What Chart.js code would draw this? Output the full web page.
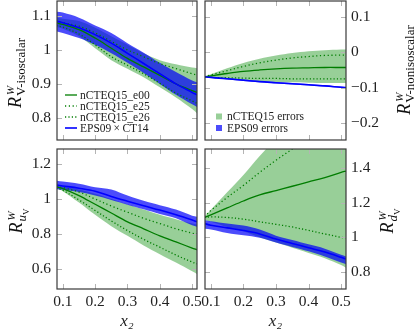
<!DOCTYPE html>
<html>
<head>
<meta charset="utf-8">
<script src="https://cdn.jsdelivr.net/npm/chart.js@4.4.0/dist/chart.umd.min.js"></script>
<style>
  html, body { margin: 0; padding: 0; background: #fff; }
  #wrap { position: relative; width: 415px; height: 332px; overflow: hidden; }
  #wrap canvas { position: absolute; left: 0; top: 0; }
</style>
</head>
<body>
<div id="wrap">
  <canvas id="isoChart" width="415" height="332"></canvas>
  <canvas id="nonisoChart" width="415" height="332"></canvas>
  <canvas id="uvChart" width="415" height="332"></canvas>
  <canvas id="dvChart" width="415" height="332"></canvas>
</div>
<script>
// x2 grid shared by every panel
const x2 = [0.08, 0.1, 0.15, 0.2, 0.25, 0.3, 0.35, 0.4, 0.45, 0.5, 0.515];
const xTicks = [0.1, 0.2, 0.3, 0.4, 0.5];
const xTickLabels = ["0.1", "0.2", "0.3", "0.4", "0.5"];

// R_V-isoscalar (top left)
const isoE00 = [1.08, 1.075, 1.06, 1.035, 1.005, 0.975, 0.95, 0.925, 0.9, 0.88, 0.875];
const isoE25 = [1.085, 1.08, 1.07, 1.05, 1.025, 1.0, 0.98, 0.96, 0.945, 0.93, 0.926];
const isoE26 = [1.072, 1.067, 1.047, 1.015, 0.98, 0.955, 0.93, 0.902, 0.873, 0.85, 0.843];
const isoHi = [1.095, 1.092, 1.085, 1.065, 1.04, 1.015, 0.99, 0.97, 0.958, 0.948, 0.946];
const isoLo = [1.068, 1.062, 1.04, 1.005, 0.97, 0.945, 0.92, 0.89, 0.86, 0.826, 0.814];
const isoEps = [1.085, 1.08, 1.065, 1.045, 1.02, 0.99, 0.96, 0.93, 0.9, 0.875, 0.868];
const isoEpsHi = [1.113, 1.11, 1.095, 1.072, 1.05, 1.02, 0.992, 0.962, 0.935, 0.91, 0.905];
const isoEpsLo = [1.055, 1.05, 1.035, 1.015, 0.99, 0.962, 0.932, 0.9, 0.868, 0.84, 0.832];
const isoTicks = [0.8, 0.9, 1, 1.1];
const isoTickLabels = ["0.8", "0.9", "1", "1.1"];

// R_V-nonisoscalar (top right)
const nonE00 = [-0.07, -0.067, -0.06, -0.054, -0.05, -0.047, -0.045, -0.044, -0.043, -0.043, -0.043];
const nonE25 = [-0.069, -0.064, -0.052, -0.04, -0.03, -0.022, -0.016, -0.012, -0.009, -0.008, -0.008];
const nonE26 = [-0.07, -0.071, -0.072, -0.073, -0.074, -0.074, -0.075, -0.075, -0.075, -0.075, -0.075];
const nonHi = [-0.068, -0.062, -0.045, -0.03, -0.018, -0.009, -0.002, 0.003, 0.006, 0.008, 0.008];
const nonLo = [-0.07, -0.072, -0.076, -0.079, -0.082, -0.084, -0.085, -0.086, -0.087, -0.087, -0.087];
const nonEps = [-0.069, -0.071, -0.075, -0.079, -0.083, -0.086, -0.089, -0.092, -0.095, -0.099, -0.1];
const nonEpsHi = [-0.067, -0.069, -0.073, -0.077, -0.081, -0.084, -0.087, -0.09, -0.093, -0.097, -0.098];
const nonEpsLo = [-0.071, -0.073, -0.077, -0.081, -0.085, -0.088, -0.091, -0.094, -0.097, -0.101, -0.102];
const nonTicks = [-0.2, -0.1, 0, 0.1];
const nonTickLabels = ["\u22120.2", "\u22120.1", "0", "0.1"];

// R_uV (bottom left)
const uvE00 = [1.07, 1.06, 1.02, 0.97, 0.92, 0.87, 0.83, 0.79, 0.755, 0.72, 0.71];
const uvE25 = [1.07, 1.065, 1.04, 1.0, 0.96, 0.925, 0.89, 0.86, 0.83, 0.805, 0.8];
const uvE26 = [1.065, 1.05, 0.995, 0.935, 0.875, 0.82, 0.77, 0.725, 0.68, 0.64, 0.63];
const uvHi = [1.075, 1.07, 1.055, 1.03, 1.0, 0.97, 0.94, 0.91, 0.885, 0.86, 0.855];
const uvLo = [1.06, 1.045, 0.98, 0.91, 0.845, 0.79, 0.735, 0.685, 0.637, 0.587, 0.572];
const uvEps = [1.08, 1.075, 1.062, 1.045, 1.015, 0.988, 0.962, 0.937, 0.91, 0.88, 0.87];
const uvEpsHi = [1.105, 1.1, 1.088, 1.068, 1.055, 1.02, 0.99, 0.965, 0.94, 0.905, 0.899];
const uvEpsLo = [1.057, 1.053, 1.04, 1.02, 0.995, 0.968, 0.942, 0.915, 0.89, 0.85, 0.842];
const uvTicks = [0.6, 0.8, 1, 1.2];
const uvTickLabels = ["0.6", "0.8", "1", "1.2"];

// R_dV (bottom right)
const dvE00 = [1.115, 1.13, 1.17, 1.21, 1.245, 1.27, 1.295, 1.32, 1.345, 1.375, 1.383];
const dvE25 = [1.12, 1.155, 1.23, 1.3, 1.375, 1.445, 1.51, 1.58, 1.65, 1.72, 1.74];
const dvE26 = [1.115, 1.118, 1.115, 1.105, 1.09, 1.075, 1.06, 1.04, 1.02, 1.0, 0.998];
const dvHi = [1.12, 1.16, 1.26, 1.36, 1.47, 1.57, 1.67, 1.77, 1.87, 1.97, 2.0];
const dvLo = [1.1, 1.09, 1.06, 1.035, 1.0, 0.97, 0.94, 0.91, 0.88, 0.84, 0.825];
const dvEps = [1.08, 1.07, 1.055, 1.04, 1.02, 0.99, 0.965, 0.94, 0.915, 0.885, 0.875];
const dvEpsHi = [1.1, 1.093, 1.08, 1.068, 1.045, 1.01, 0.985, 0.96, 0.935, 0.9, 0.89];
const dvEpsLo = [1.05, 1.045, 1.025, 1.012, 0.998, 0.97, 0.945, 0.92, 0.89, 0.855, 0.845];
const dvTicks = [0.8, 1, 1.2, 1.4];
const dvTickLabels = ["0.8", "1", "1.2", "1.4"];

const seriesNames = ["nCTEQ15_e00", "nCTEQ15_e25", "nCTEQ15_e26", "EPS09\u2009\u00d7\u2009CT14"];
const bandNames = ["nCTEQ15 errors", "EPS09 errors"];

const SERIF = "'Liberation Serif', 'DejaVu Serif', serif";
const GREEN = "rgb(0, 125, 0)";
const GREEN_FILL = "rgba(50, 160, 50, 0.5)";
const BLUE = "rgb(0, 0, 255)";
const BLUE_FILL = "rgba(0, 0, 250, 0.7)";
const NONE = "rgba(0, 0, 0, 0)";
const INK = "#222";

const pts = (ys) => x2.map((x, i) => ({ x: x, y: ys[i] }));

// R^W_{sub} drawn rotated, reading bottom to top; bx is the baseline x
function drawRTitle(ctx, bx, cy, sub, subItalic, subsub) {
  const fR = "italic 18px " + SERIF;
  const fW = "italic 11px " + SERIF;
  const fSub = (subItalic ? "italic 13px " : "13px ") + SERIF;
  const fSS = "9px " + SERIF;
  ctx.save();
  ctx.font = fR;
  const wR = ctx.measureText("R").width;
  ctx.font = fW;
  const wW = ctx.measureText("W").width;
  ctx.font = fSub;
  const wSub = ctx.measureText(sub).width;
  let wSS = 0;
  if (subsub) {
    ctx.font = fSS;
    wSS = ctx.measureText(subsub).width;
  }
  const w = wR + 1 + Math.max(wW, wSub + wSS);
  ctx.translate(bx, cy);
  ctx.rotate(-Math.PI / 2);
  ctx.fillStyle = "#111";
  ctx.textAlign = "left";
  ctx.textBaseline = "alphabetic";
  let x = -w / 2;
  ctx.font = fR;
  ctx.fillText("R", x, 0);
  x += wR + 1;
  ctx.font = fW;
  ctx.fillText("W", x + 1, -7);
  ctx.font = fSub;
  ctx.fillText(sub, x, 4);
  if (subsub) {
    ctx.font = fSS;
    ctx.fillText(subsub, x + wSub, 7);
  }
  ctx.restore();
}

const panelDeco = {
  id: "panelDeco",
  afterDatasetsDraw(chart, args, opts) {
    const ctx = chart.ctx;
    const a = chart.chartArea;
    const xs = chart.scales.x;
    const ys = chart.scales.y;
    ctx.save();
    // pgfplots style ticks, pointing inwards on all four sides
    ctx.strokeStyle = "#b4b4b4";
    ctx.lineWidth = 1;
    ctx.beginPath();
    xTicks.forEach((v) => {
      const px = Math.round(xs.getPixelForValue(v)) + 0.5;
      ctx.moveTo(px, a.bottom);
      ctx.lineTo(px, a.bottom - 5);
      ctx.moveTo(px, a.top);
      ctx.lineTo(px, a.top + 5);
    });
    ys.ticks.forEach((t) => {
      const py = Math.round(ys.getPixelForValue(t.value)) + 0.5;
      ctx.moveTo(a.left, py);
      ctx.lineTo(a.left + 5, py);
      ctx.moveTo(a.right, py);
      ctx.lineTo(a.right - 5, py);
    });
    ctx.stroke();
    ctx.strokeStyle = "#3a3a3a";
    ctx.lineWidth = 1.2;
    ctx.strokeRect(a.left, a.top, a.right - a.left, a.bottom - a.top);
    ctx.restore();
  },
  afterDraw(chart, args, opts) {
    const ctx = chart.ctx;
    const t = opts.title;
    if (t) drawRTitle(ctx, t.x, t.y, t.sub, t.italic, t.subsub);

    const ds = chart.data.datasets;
    ctx.save();
    ctx.font = "11.5px " + SERIF;
    ctx.fillStyle = INK;
    ctx.textBaseline = "middle";
    if (opts.lineLegend) {
      const L = opts.lineLegend;
      [1, 2, 3, 0].forEach((di, i) => {
        const d = ds[di];
        const y = L.y + i * L.step;
        ctx.save();
        ctx.strokeStyle = d.borderColor;
        ctx.lineWidth = d.borderWidth;
        ctx.setLineDash(d.borderDash || []);
        ctx.beginPath();
        ctx.moveTo(L.x, y);
        ctx.lineTo(L.x + 12, y);
        ctx.stroke();
        ctx.restore();
        ctx.fillText(seriesNames[i], L.x + 15, y + 0.5);
      });
    }
    if (opts.bandLegend) {
      const L = opts.bandLegend;
      [GREEN_FILL, BLUE_FILL].forEach((c, i) => {
        const y = L.y + i * L.step;
        ctx.fillStyle = c;
        ctx.fillRect(L.x, y - 3, 6, 6);
        ctx.fillStyle = INK;
        ctx.fillText(bandNames[i], L.x + 11, y + 0.5);
      });
    }
    ctx.restore();
  },
};

function makePanel(id, p) {
  const right = p.side === "right";
  const bottom = p.row === "bottom";
  const chartLeft = right ? 205 : 57;
  const chartRight = right ? 346 : 197;
  const chartTop = bottom ? 149 : 1;
  const chartBottom = bottom ? 289 : 140;
  const yAxisW = 40;
  const xAxisH = bottom ? 332 - chartBottom : 0;

  const band = (ys, color, order, fill) => ({
    data: pts(ys),
    borderColor: NONE,
    borderWidth: 0,
    backgroundColor: color,
    pointRadius: 0,
    tension: 0.35,
    fill: fill,
    order: order,
  });
  const line = (ys, color, width, dash, order) => ({
    data: pts(ys),
    borderColor: color,
    borderWidth: width,
    borderDash: dash,
    backgroundColor: color,
    pointRadius: 0,
    tension: 0.35,
    fill: false,
    order: order,
  });

  return new Chart(document.getElementById(id), {
    type: "line",
    data: {
      datasets: [
        line(p.eps, BLUE, 1.6, [], 0),
        line(p.e00, GREEN, 1.3, [], 1),
        line(p.e25, GREEN, 1.3, [1.2, 2.6], 1),
        line(p.e26, GREEN, 1.3, [1.2, 2.2], 1),
        band(p.epsHi, BLUE_FILL, 2, "+1"),
        band(p.epsLo, BLUE_FILL, 2, false),
        band(p.hi, GREEN_FILL, 3, "+1"),
        band(p.lo, GREEN_FILL, 3, false),
      ],
    },
    options: {
      responsive: false,
      animation: false,
      devicePixelRatio: 1,
      events: [],
      layout: {
        padding: {
          left: right ? chartLeft : chartLeft - yAxisW,
          right: right ? 415 - chartRight - yAxisW : 415 - chartRight,
          top: chartTop,
          bottom: bottom ? 0 : 332 - chartBottom,
        },
      },
      plugins: {
        legend: { display: false },
        tooltip: { enabled: false },
        panelDeco: {
          title: p.title,
          lineLegend: p.lineLegend,
          bandLegend: p.bandLegend,
        },
      },
      scales: {
        x: {
          type: "linear",
          min: 0.082,
          max: 0.515,
          grid: { display: false, drawTicks: false },
          border: { display: false },
          afterBuildTicks: (s) => {
            s.ticks = xTicks.map((v) => ({ value: v }));
          },
          ticks: {
            display: bottom,
            padding: 4,
            color: INK,
            font: { family: SERIF, size: 15.5 },
            maxRotation: 0,
            autoSkip: false,
            callback: (v) => xTickLabels[xTicks.indexOf(v)],
          },
          title: {
            display: bottom,
            text: "x\u2082",
            color: INK,
            font: { family: SERIF, size: 17, style: "italic" },
            padding: { top: 0, bottom: 0 },
          },
          afterFit: (s) => {
            s.height = xAxisH;
            s.paddingLeft = 0;
            s.paddingRight = 0;
            s.paddingTop = 0;
            s.paddingBottom = 0;
          },
        },
        y: {
          position: p.side,
          min: p.yMin,
          max: p.yMax,
          grid: { display: false, drawTicks: false },
          border: { display: false },
          afterBuildTicks: (s) => {
            s.ticks = p.yTicks.map((v) => ({ value: v }));
          },
          ticks: {
            padding: right ? 5 : 6,
            color: INK,
            font: { family: SERIF, size: 15.5 },
            autoSkip: false,
            callback: (v) => p.yTickLabels[p.yTicks.indexOf(v)],
          },
          afterFit: (s) => {
            s.width = yAxisW;
            s.paddingLeft = 0;
            s.paddingRight = 0;
            s.paddingTop = 0;
            s.paddingBottom = 0;
          },
        },
      },
    },
    plugins: [panelDeco],
  });
}

makePanel("isoChart", {
  side: "left", row: "top",
  e00: isoE00, e25: isoE25, e26: isoE26, hi: isoHi, lo: isoLo,
  eps: isoEps, epsHi: isoEpsHi, epsLo: isoEpsLo,
  yMin: 0.735, yMax: 1.144, yTicks: isoTicks, yTickLabels: isoTickLabels,
  title: { x: 21, y: 73, sub: "V-isoscalar" },
  lineLegend: { x: 65, y: 95, step: 11 },
});

makePanel("nonisoChart", {
  side: "right", row: "top",
  e00: nonE00, e25: nonE25, e26: nonE26, hi: nonHi, lo: nonLo,
  eps: nonEps, epsHi: nonEpsHi, epsLo: nonEpsLo,
  yMin: -0.248, yMax: 0.145, yTicks: nonTicks, yTickLabels: nonTickLabels,
  title: { x: 410, y: 70, sub: "V-nonisoscalar" },
  bandLegend: { x: 216, y: 116.5, step: 11.5 },
});

makePanel("uvChart", {
  side: "left", row: "bottom",
  e00: uvE00, e25: uvE25, e26: uvE26, hi: uvHi, lo: uvLo,
  eps: uvEps, epsHi: uvEpsHi, epsLo: uvEpsLo,
  yMin: 0.486, yMax: 1.286, yTicks: uvTicks, yTickLabels: uvTickLabels,
  title: { x: 22, y: 221, sub: "u", italic: true, subsub: "V" },
});

makePanel("dvChart", {
  side: "right", row: "bottom",
  e00: dvE00, e25: dvE25, e26: dvE26, hi: dvHi, lo: dvLo,
  eps: dvEps, epsHi: dvEpsHi, epsLo: dvEpsLo,
  yMin: 0.702, yMax: 1.51, yTicks: dvTicks, yTickLabels: dvTickLabels,
  title: { x: 393, y: 221, sub: "d", italic: true, subsub: "V" },
});
</script>
</body>
</html>
